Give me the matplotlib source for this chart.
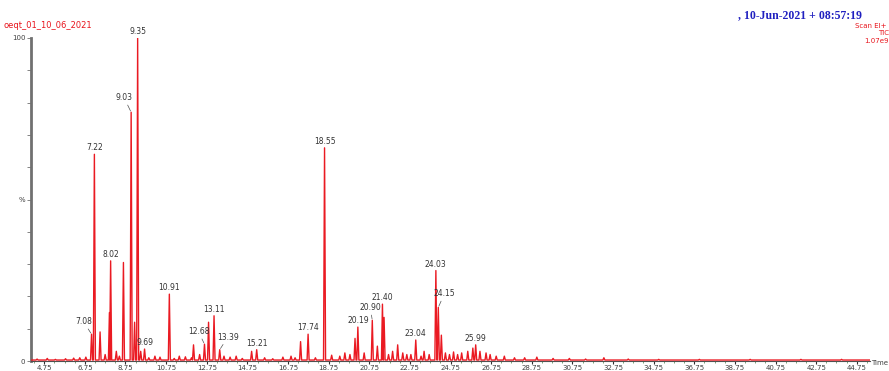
import matplotlib.pyplot as plt
import numpy as np

# retention times (min) and relative heights (%) of resolved peaks
peak_rt = [7.08, 7.22, 7.50, 7.96, 8.02, 8.30, 8.65, 9.03, 9.20, 9.35, 9.50, 9.69,
           10.20, 10.91, 11.40, 12.10, 12.40, 12.64, 12.84, 13.11, 13.39, 14.20,
           14.96, 15.21, 17.37, 17.74, 18.55, 19.55, 20.05, 20.19, 20.90, 21.15,
           21.40, 21.48, 21.90, 22.15, 22.60, 23.04, 23.45, 24.03, 24.15, 24.30,
           25.85, 25.99, 26.20, 26.50]
peak_h = [8.3, 64.0, 9.0, 15.0, 31.0, 3.0, 30.5, 77.0, 12.0, 100.0, 3.0, 3.7,
          1.5, 20.7, 1.5, 5.0, 2.0, 5.2, 12.0, 14.0, 3.5, 1.5,
          3.0, 3.5, 6.0, 8.3, 66.0, 2.5, 7.0, 10.5, 12.6, 4.6,
          17.6, 13.5, 3.0, 5.0, 2.0, 6.5, 3.0, 28.0, 16.6, 8.0,
          4.0, 5.0, 3.0, 2.5]

# small baseline bumps
noise_rt = [4.4, 4.9, 5.3, 5.8, 6.2, 6.5, 6.8, 7.75, 8.45, 9.9, 10.45, 11.15,
            11.7, 12.0, 13.6, 13.9, 14.5, 15.6, 16.0, 16.5, 16.9, 17.1, 18.1,
            18.9, 19.3, 19.8, 20.5, 21.7, 22.4, 22.8, 23.3, 23.7, 24.5, 24.7,
            24.9, 25.1, 25.3, 25.6, 26.7, 27.0, 27.4, 27.9, 28.4, 29.0, 29.8,
            30.6, 31.4, 32.3, 33.5, 35.0, 37.0, 39.5, 42.0, 44.0]
noise_h = [0.6, 0.8, 0.5, 0.7, 0.9, 1.0, 1.2, 2.0, 1.5, 1.0, 1.2, 0.8,
           1.3, 1.0, 1.5, 1.2, 0.8, 1.0, 0.7, 1.2, 1.5, 1.0, 1.0,
           1.8, 1.5, 2.0, 2.5, 2.0, 2.5, 2.0, 1.5, 2.0, 2.5, 2.0,
           2.8, 2.0, 2.5, 3.0, 2.0, 1.5, 1.5, 1.0, 1.0, 1.2, 0.8,
           0.8, 0.6, 1.0, 0.6, 0.5, 0.5, 0.5, 0.5, 0.5]

# labelled peaks
labels = ["7.08", "7.22", "8.02", "9.03", "9.35", "9.69", "10.91", "12.68",
          "13.11", "13.39", "15.21", "17.74", "18.55", "20.19", "20.90",
          "21.40", "23.04", "24.03", "24.15", "25.99"]
label_rt = [7.08, 7.22, 8.02, 9.03, 9.35, 9.69, 10.91, 12.64,
            13.11, 13.39, 15.21, 17.74, 18.55, 20.19, 20.90,
            21.40, 23.04, 24.03, 24.15, 25.99]
label_h = [8.3, 64.0, 31.0, 77.0, 100.0, 3.7, 20.7, 5.2,
           14.0, 3.5, 3.5, 8.3, 66.0, 10.5, 12.6,
           17.6, 6.5, 28.0, 16.6, 5.0]
# label offsets in pixels for the ones with a leader line
offsets = {"7.08": (-8, 8), "9.03": (-7, 10), "12.68": (-6, 8),
           "13.39": (8, 8), "20.90": (-2, 8), "24.15": (6, 9)}

base = 0.3
pts = [(4.1, base)]
hw = 0.05
for t, h in sorted(zip(peak_rt + noise_rt, peak_h + noise_h)):
    pts += [(t - hw, base), (t, h), (t + hw, base)]
pts.append((45.4, base))
tx, ty = zip(*pts)

fig = plt.figure(figsize=(8.89, 3.71), dpi=100)
ax = fig.add_axes([31 / 889, 10 / 371, 839 / 889, 323 / 371])
ax.plot(tx, ty, color="#ea1a22", lw=1.0, zorder=3)
ax.set_xlim(4.1, 45.4)
ax.set_ylim(0, 100)

for s in ["top", "right"]:
    ax.spines[s].set_visible(False)
ax.spines["left"].set_color("#707070")
ax.spines["left"].set_linewidth(2)
ax.spines["bottom"].set_color("#505050")
ax.spines["bottom"].set_linewidth(0.8)

ax.set_yticks([0, 50, 100])
ax.set_yticklabels(["0", "%", "100"])
ax.set_yticks(np.arange(0, 101, 10), minor=True)
ax.tick_params(axis="y", which="both", length=3, width=0.6, color="#707070",
               labelsize=5, labelcolor="#404040", pad=1)
xt = np.arange(4.75, 45, 2.0)
ax.set_xticks(xt)
ax.set_xticklabels(["%.2f" % v for v in xt])
ax.set_xticks(np.arange(4.25, 45.4, 0.5), minor=True)
ax.tick_params(axis="x", which="major", length=2.5, width=0.8, color="#303030",
               labelsize=5, labelcolor="#404040", pad=0.5)
ax.tick_params(axis="x", which="minor", length=1.5, width=0.5, color="#408040")

for lab, t, h in zip(labels, label_rt, label_h):
    if lab in offsets:
        ax.annotate(lab, (t, h), xytext=offsets[lab], textcoords="offset pixels",
                    fontsize=5.5, ha="center", va="bottom", color="#333333",
                    arrowprops=dict(arrowstyle="-", lw=0.5, color="#505050",
                                    shrinkA=0, shrinkB=1))
    else:
        ax.annotate(lab, (t, h), xytext=(0, 2), textcoords="offset pixels",
                    fontsize=5.5, ha="center", va="bottom", color="#333333")

fig.text(4 / 889, 1 - 26 / 371, "oeqt_01_10_06_2021", color="#e8141c",
         fontsize=6, va="center")
fig.text(738 / 889, 1 - 15 / 371, ", 10-Jun-2021 + 08:57:19", color="#2020c0",
         fontsize=8.5, fontweight="bold", family="Liberation Serif", va="center")
fig.text(855 / 889, 1 - 26 / 371, "Scan EI+", color="#e8141c", fontsize=5, va="center")
fig.text(878 / 889, 1 - 33 / 371, "TIC", color="#e8141c", fontsize=5, va="center")
fig.text(864 / 889, 1 - 41 / 371, "1.07e9", color="#e8141c", fontsize=5, va="center")
fig.text(871 / 889, 1 - 363 / 371, "Time", color="#404040", fontsize=5, va="center")

fig.savefig("out.png", dpi=100)
